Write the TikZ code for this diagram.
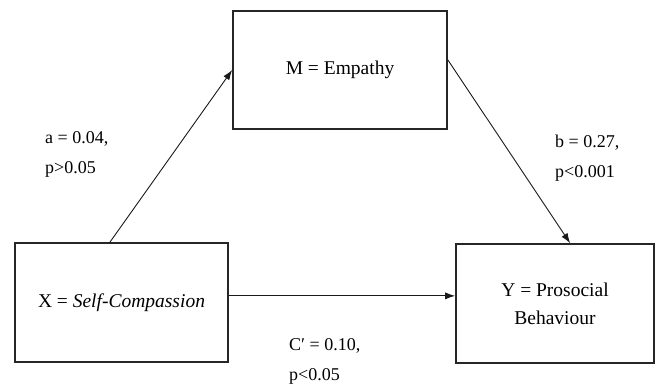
\documentclass[tikz,border=0pt]{standalone}
\usepackage{fontspec}
\setmainfont{Liberation Serif}
\usetikzlibrary{arrows.meta,calc}
\begin{document}
\begin{tikzpicture}[x=1pt,y=-1pt,
  box/.style={draw=black!85,line width=1.6pt,rectangle,inner sep=0pt,align=center,font=\fontsize{19.5}{28}\selectfont},
  conn/.style={draw=black!90,line width=0.9pt,-{Latex[length=10pt,width=7pt]}},
  lbl/.style={anchor=west,inner sep=0pt,align=left,font=\fontsize{18}{30}\selectfont}]
\useasboundingbox (0,0) rectangle (656,387);
\node[box,minimum width=214pt,minimum height=118pt] (M) at (340,70) {M = Empathy};
\node[box,minimum width=213pt,minimum height=119pt] (X) at (121.5,302.5) {X = \textit{Self-Compassion}};
\node[box,minimum width=198pt,minimum height=119pt] (Y) at (555,303.5) {Y = Prosocial\\Behaviour};
\coordinate (aS) at ($(X.north west)!0.446!(X.north east)$);
\coordinate (bS) at ($(M.north east)!0.415!(M.south east)$);
\coordinate (bE) at ($(Y.north west)!0.576!(Y.north east)$);
\coordinate (cS) at ($(X.north east)!0.445!(X.south east)$);
\draw[conn] (aS) -- (M.west);
\draw[conn] (bS) -- (bE);
\draw[conn] (cS) -- (Y.west |- cS);
\node[lbl] (la) at (45,154) {a = 0.04,\\p>0.05};
\node[lbl] (lb) at (555,158) {b = 0.27,\\p<0.001};
\node[lbl] (lc) at (289,361) {C′ = 0.10,\\p<0.05};
\end{tikzpicture}
\end{document}
